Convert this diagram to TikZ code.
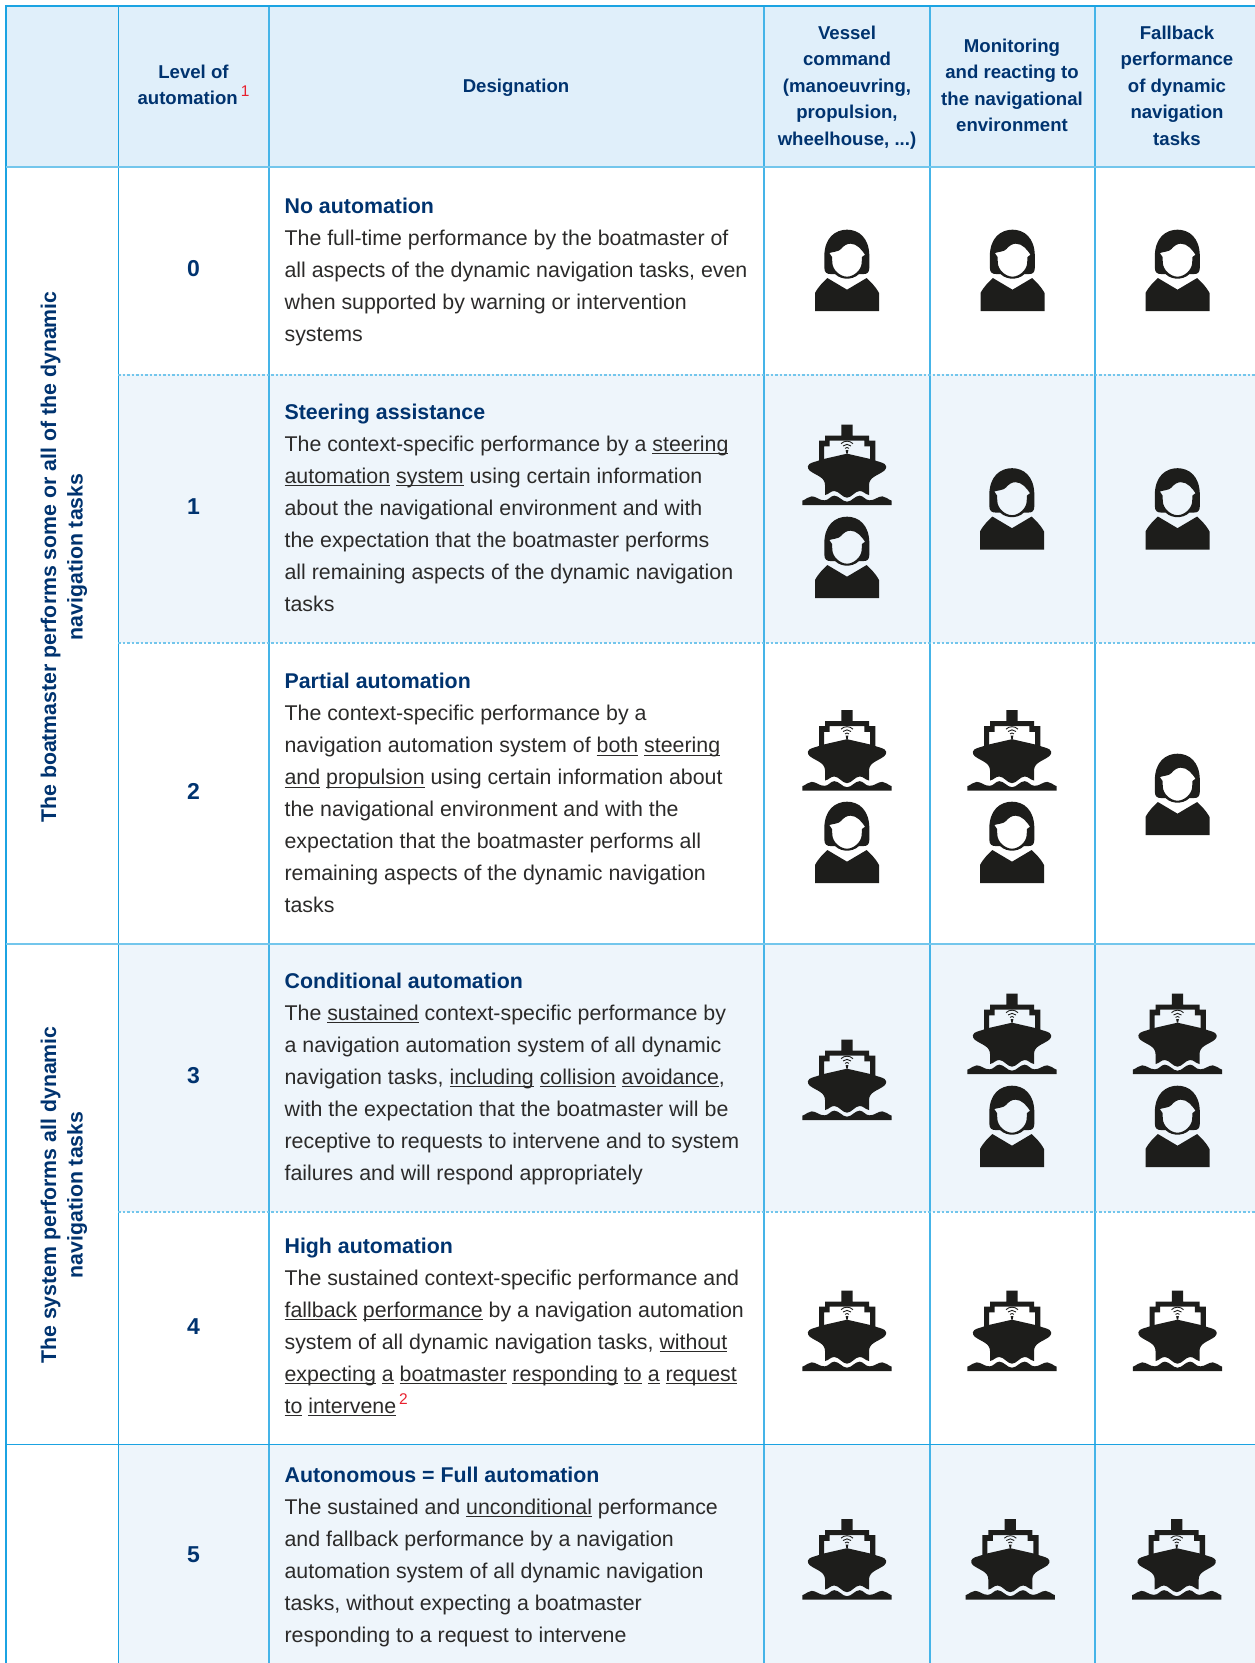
\documentclass[tikz,border=0pt]{standalone}
\usepackage{fontspec}
\setmainfont{Liberation Sans}
\definecolor{navy}{HTML}{00336F}
\definecolor{bodytxt}{HTML}{2B2A29}
\definecolor{gridblue}{HTML}{45B4E8}
\definecolor{griddark}{HTML}{1BA3E2}
\definecolor{gridlight}{HTML}{73C6EC}
\definecolor{headfill}{HTML}{E0EFFA}
\definecolor{rowfill}{HTML}{EEF5FB}
\definecolor{iconblack}{HTML}{1D1D1B}
\definecolor{supred}{HTML}{E8202E}
\newsavebox\ulbox
\newcommand\ul[1]{\sbox\ulbox{#1}\rlap{\rule[-3.2pt]{\wd\ulbox}{1.3pt}}\usebox\ulbox}
\newcommand\firstline{\rule{0pt}{16pt}}
\newcommand\sups[1]{\raisebox{8.5pt}{\kern3pt\fontsize{15.5}{15.5}\selectfont\mdseries\color{supred}#1}}
\tikzset{
  headtxt/.style={inner sep=0pt,anchor=north,align=center,text=navy,font=\fontsize{18.6}{26.5}\selectfont\bfseries},
  celltxt/.style={inner sep=0pt,anchor=north west,align=left,text=bodytxt,font=\fontsize{21.35}{32}\selectfont},
  leveltxt/.style={inner sep=0pt,text=navy,font=\fontsize{23}{26}\selectfont\bfseries},
  sidetxt/.style={inner sep=0pt,rotate=90,align=center,text=navy,font=\fontsize{21.3}{26.5}\selectfont\bfseries},
  dotline/.style={gridlight,line width=2pt,dash pattern=on 2.6pt off 1.9pt},
  shipicon/.pic={
    \begin{scope}[x=0.3333pt,y=0.3333pt]
    \fill[iconblack,even odd rule] (-84,130)--(-84,193)--(-66,193)--(-66,208)--(-17,208)--(-17,241)--(17,241)--(17,208)--(66,208)--(66,193)--(85,193)--(85,130)--cycle
      (-69,130)--(-69,176)--(-52,176)--(-52,193)--(52,193)--(52,176)--(69,176)--(69,130)--cycle;
    \fill[iconblack] (-70,138) -- (0,154) -- (70,138) -- (105,127) .. controls (118,123) and (122,112) .. (112,103)
      .. controls (92,88) and (66,84) .. (66,60) -- (66,30)
      .. controls (54,32) and (50,42) .. (38,42) .. controls (24,42) and (14,22) .. (0,22) .. controls (-14,22) and (-24,42) .. (-38,42)
      .. controls (-50,42) and (-54,32) .. (-66,30) -- (-66,60) .. controls (-66,84) and (-92,88) .. (-112,103) .. controls (-122,112) and (-118,123) .. (-105,127) -- cycle;
    \fill[iconblack] (-134,0) -- (-134,13) .. controls (-122,17) and (-116,26) .. (-106,26) .. controls (-92,26) and (-84,14) .. (-68,14)
      .. controls (-54,14) and (-50,28) .. (-38,28) .. controls (-24,28) and (-14,10) .. (0,10) .. controls (14,10) and (24,28) .. (38,28)
      .. controls (50,28) and (54,14) .. (68,14) .. controls (84,14) and (92,26) .. (106,26) .. controls (116,26) and (122,17) .. (134,13) -- (134,0) -- cycle;
    \draw[iconblack,line width=0.9pt] (-6,170) arc (135:45:8.5) (-12,177) arc (135:45:17) (-18,184) arc (135:45:25.5);
    \fill[iconblack] (-4,165)--(4,165)--(2,154)--(-2,154)--cycle;
    \end{scope}
  },
  personicon/.pic={
    \begin{scope}[x=0.3333pt,y=0.3333pt]
    \fill[iconblack] (-96,0)--(96,0)--(96,54) .. controls (85,75) and (70,88) .. (59,99) -- (0,64) -- (-59,99) .. controls (-70,88) and (-85,75) .. (-96,54) -- cycle;
    \fill[iconblack,even odd rule] (-68,164) .. controls (-68,220) and (-35,244) .. (0,244) .. controls (35,244) and (67,220) .. (67,164)
      -- (67,130) .. controls (67,115) and (60,111) .. (50,111) -- (36,111) .. controls (25,100) and (10,97) .. (0,97) .. controls (-10,97) and (-25,100) .. (-36,111)
      -- (-50,111) .. controls (-60,111) and (-68,115) .. (-68,130) -- cycle
      (-53,174) .. controls (-40,178) and (-25,178) .. (-18,186) .. controls (-10,196) and (0,202) .. (10,202) .. controls (30,202) and (44,184) .. (54,169)
      -- (45,162) -- (44,145)
      .. controls (44,125) and (22,103) .. (0,103) .. controls (-22,103) and (-44,125) .. (-44,145) -- (-45,162) -- cycle;
    \end{scope}
  }
}
\begin{document}
\begin{tikzpicture}[x=1pt,y=-1pt]
\useasboundingbox (0,0) rectangle (1255,1663);
% fills
\fill[headfill] (6,6) rectangle (1255,167);
\fill[rowfill] (118,374) rectangle (1255,643);
\fill[rowfill] (118,944) rectangle (1255,1212);
\fill[rowfill] (118,1444) rectangle (1255,1663);
% grid
\draw[griddark,line width=1.4pt] (118.3,6) -- (118.3,1663);
\draw[griddark,line width=1.4pt] (6,6) -- (6,1663);
\draw[gridblue,line width=1.6pt] (268.7,6) -- (268.7,1663);
\draw[gridblue,line width=1.6pt] (764,6) -- (764,1663);
\draw[gridblue,line width=1.6pt] (929.7,6) -- (929.7,1663);
\draw[gridblue,line width=1.6pt] (1095,6) -- (1095,1663);
\draw[griddark,line width=1.5pt] (5.3,6) -- (1255,6);
\draw[gridlight,line width=1.8pt] (6,167) -- (1255,167);
\draw[gridlight,line width=1.8pt] (6,944) -- (1255,944);
\draw[griddark,line width=1.4pt] (6,1444.5) -- (1255,1444.5);
\draw[dotline] (118,374.5) -- (1255,374.5);
\draw[dotline] (118,643) -- (1255,643);
\draw[dotline] (118,1212) -- (1255,1212);
% header
\node[headtxt] (hlevel) at (193.5,62) {\firstline Level of\\automation\sups{1}};
\node[headtxt] (hdesig) at (516,76.3) {\firstline Designation};
\node[headtxt] (hvessel) at (847,23) {\firstline Vessel\\command\\(manoeuvring,\\propulsion,\\wheelhouse, ...)};
\node[headtxt] (hmonitor) at (1012,36) {\firstline Monitoring\\and reacting to\\the navigational\\environment};
\node[headtxt] (hfallback) at (1177,23) {\firstline Fallback\\performance\\of dynamic\\navigation\\tasks};
% side
\node[sidetxt] (sideone) at (64,557) {The boatmaster performs some or all of the dynamic\\navigation tasks};
\node[sidetxt] (sidetwo) at (64,1195) {The system performs all dynamic\\navigation tasks};
% levels
\node[leveltxt] (lzero) at (193.5,268.5) {0};
\node[leveltxt] (lone) at (193.5,507) {1};
\node[leveltxt] (ltwo) at (193.5,791.5) {2};
\node[leveltxt] (lthree) at (193.5,1076) {3};
\node[leveltxt] (lfour) at (193.5,1327) {4};
\node[leveltxt] (lfive) at (193.5,1555) {5};
% cells
\node[celltxt] (czero) at (284.4,197) {\firstline\textcolor{navy}{\bfseries No automation}\\
The full-time performance by the boatmaster of\\
all aspects of the dynamic navigation tasks, even\\
when supported by warning or intervention\\
systems};
\node[celltxt] (cone) at (284.4,403) {\firstline\textcolor{navy}{\bfseries Steering assistance}\\
The context-specific performance by a \ul{steering}\\
\ul{automation} \ul{system} using certain information\\
about the navigational environment and with\\
the expectation that the boatmaster performs\\
all remaining aspects of the dynamic navigation\\
tasks};
\node[celltxt] (ctwo) at (284.4,672.5) {\firstline\textcolor{navy}{\bfseries Partial automation}\\
The context-specific performance by a\\
navigation automation system of \ul{both} \ul{steering}\\
\ul{and} \ul{propulsion} using certain information about\\
the navigational environment and with the\\
expectation that the boatmaster performs all\\
remaining aspects of the dynamic navigation\\
tasks};
\node[celltxt] (cthree) at (284.4,972) {\firstline\textcolor{navy}{\bfseries Conditional automation}\\
The \ul{sustained} context-specific performance by\\
a navigation automation system of all dynamic\\
navigation tasks, \ul{including} \ul{collision} \ul{avoidance},\\
with the expectation that the boatmaster will be\\
receptive to requests to intervene and to system\\
failures and will respond appropriately};
\node[celltxt] (cfour) at (284.4,1237) {\firstline\textcolor{navy}{\bfseries High automation}\\
The sustained context-specific performance and\\
\ul{fallback} \ul{performance} by a navigation automation\\
system of all dynamic navigation tasks, \ul{without}\\
\ul{expecting} \ul{a} \ul{boatmaster} \ul{responding} \ul{to} \ul{a} \ul{request}\\
\ul{to} \ul{intervene}\sups{2}};
\node[celltxt] (cfive) at (284.4,1466) {\firstline\textcolor{navy}{\bfseries Autonomous = Full automation}\\
The sustained and \ul{unconditional} performance\\
and fallback performance by a navigation\\
automation system of all dynamic navigation\\
tasks, without expecting a boatmaster\\
responding to a request to intervene};
% icons row 0
\pic at (847,311) {personicon};
\pic at (1012.5,311) {personicon};
\pic at (1177.5,311) {personicon};
% row 1
\pic at (847,505) {shipicon};
\pic at (847,598) {personicon};
\pic at (1012,549.5) {personicon};
\pic at (1177.5,549.5) {personicon};
% row 2
\pic at (847,790.5) {shipicon};
\pic at (847,883) {personicon};
\pic at (1012,790.5) {shipicon};
\pic at (1012,883) {personicon};
\pic at (1177.5,835) {personicon};
% row 3
\pic at (847,1120) {shipicon};
\pic at (1012,1074) {shipicon};
\pic at (1012,1167) {personicon};
\pic at (1177.5,1074) {shipicon};
\pic at (1177.5,1167) {personicon};
% row 4
\pic at (847,1371) {shipicon};
\pic at (1012,1371) {shipicon};
\pic at (1177.5,1371) {shipicon};
% row 5
\pic at (847,1599.5) {shipicon};
\pic at (1010.3,1599.5) {shipicon};
\pic at (1176.7,1599.5) {shipicon};
\end{tikzpicture}
\end{document}
